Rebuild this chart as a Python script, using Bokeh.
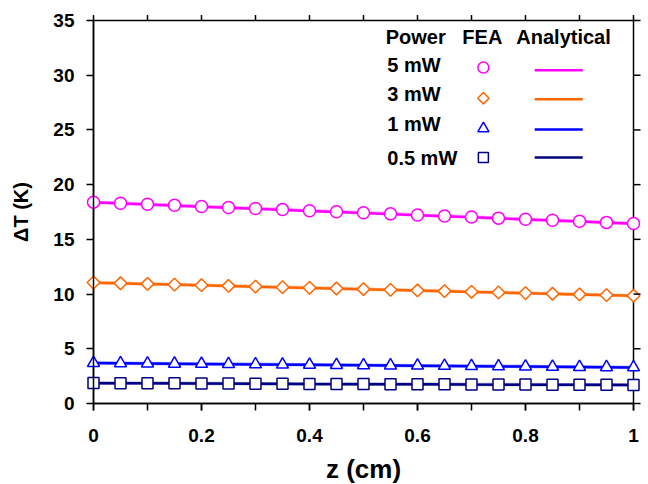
import math
from bokeh.plotting import figure
from bokeh.models import FixedTicker, Range1d
from bokeh.core.properties import value
from bokeh.embed import file_html
from bokeh.resources import INLINE

# ---------------- data ----------------
z_fea = [0.00, 0.05, 0.10, 0.15, 0.20, 0.25, 0.30, 0.35, 0.40, 0.45, 0.50,
         0.55, 0.60, 0.65, 0.70, 0.75, 0.80, 0.85, 0.90, 0.95, 1.00]
fea_5mw = [18.40, 18.30, 18.21, 18.11, 18.01, 17.91, 17.82, 17.72, 17.62, 17.52, 17.43,
           17.33, 17.23, 17.13, 17.04, 16.94, 16.84, 16.74, 16.65, 16.55, 16.45]
fea_3mw = [11.05, 10.99, 10.93, 10.87, 10.81, 10.75, 10.69, 10.63, 10.57, 10.51, 10.45,
           10.39, 10.33, 10.27, 10.21, 10.15, 10.09, 10.03, 9.97, 9.91, 9.85]
fea_1mw = [3.70, 3.68, 3.66, 3.64, 3.62, 3.60, 3.58, 3.56, 3.54, 3.52, 3.50,
           3.48, 3.46, 3.44, 3.42, 3.40, 3.38, 3.36, 3.34, 3.32, 3.30]
fea_05mw = [1.87, 1.86, 1.85, 1.84, 1.83, 1.82, 1.81, 1.80, 1.79, 1.78, 1.78,
            1.77, 1.76, 1.75, 1.74, 1.74, 1.73, 1.72, 1.71, 1.71, 1.70]

z_ana = [0.0, 0.1, 0.2, 0.3, 0.4, 0.5, 0.6, 0.7, 0.8, 0.9, 1.0]
ana_5mw = [18.38, 18.19, 17.99, 17.80, 17.60, 17.41, 17.21, 17.02, 16.82, 16.63, 16.43]
ana_3mw = [11.04, 10.92, 10.80, 10.68, 10.56, 10.44, 10.32, 10.20, 10.08, 9.96, 9.84]
ana_1mw = [3.69, 3.65, 3.61, 3.57, 3.53, 3.49, 3.45, 3.41, 3.37, 3.33, 3.29]
ana_05mw = [1.86, 1.84, 1.82, 1.80, 1.78, 1.77, 1.75, 1.73, 1.72, 1.71, 1.69]

power_labels = ["5 mW", "3 mW", "1 mW", "0.5 mW"]
header_labels = ["Power", "FEA", "Analytical"]
x_title = "z (cm)"
y_title = "\u0394T (K)"
x_ticks = [0, 0.2, 0.4, 0.6, 0.8, 1]
x_tick_labels = ["0", "0.2", "0.4", "0.6", "0.8", "1"]
x_minor = [0, 0.1, 0.2, 0.3, 0.4, 0.5, 0.6, 0.7, 0.8, 0.9, 1.0]
y_ticks = [0, 5, 10, 15, 20, 25, 30, 35]

colors = ["#FF00FF", "#FF6600", "#0000FF", "#000080"]
markers = ["circle", "square", "triangle", "square"]
angles = [0, math.pi / 4, 0, 0]
sizes = [12, 9, 12, 11]

FONT = value("Liberation Sans")

p = figure(width=648, height=484, output_backend="svg", toolbar_location=None,
           x_range=Range1d(0, 1), y_range=Range1d(0, 35),
           min_border_left=93, min_border_right=15, min_border_top=20, min_border_bottom=81)
p.grid.visible = False
p.outline_line_color = "black"
p.outline_line_width = 1.5
p.background_fill_color = "white"
p.border_fill_color = "white"

xa = p.xaxis[0]
xa.ticker = FixedTicker(ticks=x_ticks, minor_ticks=x_minor)
xa.major_label_overrides = {t: l for t, l in zip(x_ticks, x_tick_labels)}
ya = p.yaxis[0]
ya.ticker = FixedTicker(ticks=y_ticks)
for ax in (xa, ya):
    ax.axis_line_width = 1.5
    ax.major_tick_line_width = 1.5
    ax.minor_tick_line_width = 1.5
    ax.major_tick_in = 0
    ax.minor_tick_in = 0
    ax.major_tick_out = 7
    ax.minor_tick_out = 7
    ax.major_label_text_font = "Liberation Sans"
    ax.major_label_text_font_style = "bold"
    ax.major_label_text_font_size = "19px"
    ax.major_label_text_color = "black"
    ax.axis_label_text_font = "Liberation Sans"
    ax.axis_label_text_font_style = "bold"
    ax.axis_label_text_color = "black"
xa.major_label_standoff = 18
ya.major_label_standoff = 12
ya.axis_label = y_title
ya.axis_label_text_font_size = "20px"
ya.axis_label_standoff = 18

# x-axis title drawn as unclipped text below the frame
p.text(x=[0.5], y=[-6.0], text=[x_title], text_font=FONT, text_font_style="bold",
       text_font_size="26px", text_align="center", text_baseline="middle",
       text_color="black", level="overlay")

# outward ticks on top and right edges of the frame
p.segment(x0=x_minor, y0=[35] * len(x_minor), x1=x_minor, y1=[35.5] * len(x_minor),
          line_color="black", line_width=1.5, level="overlay")
p.segment(x0=[1] * len(y_ticks), y0=y_ticks, x1=[1.013] * len(y_ticks), y1=y_ticks,
          line_color="black", line_width=1.5, level="overlay")

fea = [fea_5mw, fea_3mw, fea_1mw, fea_05mw]
ana = [ana_5mw, ana_3mw, ana_1mw, ana_05mw]
for vals, avals, c in zip(fea, ana, colors):
    p.line(z_fea, vals, line_color=c, line_width=3.5, line_alpha=0.35)
    p.line(z_ana, avals, line_color=c, line_width=2.5)
for vals, c, m, a, s in zip(fea, colors, markers, angles, sizes):
    p.scatter(z_fea, vals, marker=m, angle=a, size=s, line_color=c, line_width=1.5,
              fill_color="white", level="guide")

# legend table (positions in data units)
text_y = [30.95, 28.25, 25.5, 22.45]
mark_y = [30.7, 27.9, 25.13, 22.48]
line_y = [30.45, 27.8, 25.05, 22.48]
p.text(x=[0.541, 0.683, 0.783], y=[33.5, 33.5, 33.5], text=header_labels,
       text_font=FONT, text_font_style="bold", text_font_size="20px",
       text_baseline="middle", text_align="left", text_color="black")
p.text(x=[0.544] * 4, y=text_y, text=power_labels,
       text_font=FONT, text_font_style="bold", text_font_size="20px",
       text_baseline="middle", text_align="left", text_color="black")
for my, ly, c, m, a, s in zip(mark_y, line_y, colors, markers, angles, sizes):
    p.scatter([0.722], [my], marker=m, angle=a, size=s - 1, line_color=c,
              line_width=1.5, fill_color="white")
    p.line([0.817, 0.906], [ly, ly], line_color=c, line_width=2.5)

open("out.html", "w").write(file_html(p, INLINE))
